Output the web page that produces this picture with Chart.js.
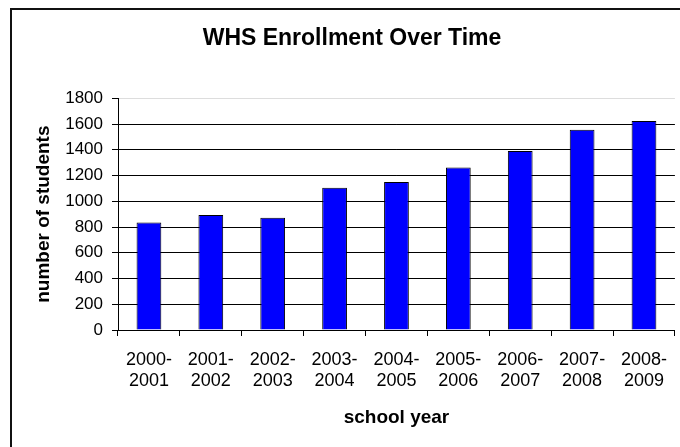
<!DOCTYPE html>
<html>
<head>
<meta charset="utf-8">
<script src="https://cdn.jsdelivr.net/npm/chart.js@4/dist/chart.umd.min.js"></script>
<style>
  html, body { margin: 0; padding: 0; background: #fff; }
  #wrap { width: 680px; height: 447px; position: relative; }
</style>
</head>
<body>
<div id="wrap"><canvas id="c" width="680" height="447"></canvas></div>
<script>
const categories = [
  ['2000-', '2001'], ['2001-', '2002'], ['2002-', '2003'],
  ['2003-', '2004'], ['2004-', '2005'], ['2005-', '2006'],
  ['2006-', '2007'], ['2007-', '2008'], ['2008-', '2009']
];
const enrollment = [835, 893, 872, 1105, 1150, 1263, 1390, 1555, 1623];
const yTicks = [0, 200, 400, 600, 800, 1000, 1200, 1400, 1600, 1800];

const FONT = "'Liberation Sans', Arial, Helvetica, sans-serif";

const frame = {
  id: 'frame',
  beforeDraw(chart) {
    const ctx = chart.ctx;
    ctx.save();
    ctx.fillStyle = '#fff';
    ctx.fillRect(0, 0, chart.width, chart.height);
    ctx.restore();
  },
  afterDraw(chart) {
    const ctx = chart.ctx;
    ctx.save();
    ctx.fillStyle = '#111';
    ctx.fillRect(10, 8, chart.width - 10, 2);
    ctx.fillRect(10, 8, 2, chart.height - 8);
    ctx.restore();
  }
};

new Chart(document.getElementById('c'), {
  type: 'bar',
  data: {
    labels: categories,
    datasets: [{
      data: enrollment,
      backgroundColor: '#0000FF',
      borderColor: '#000',
      borderWidth: 1,
      barPercentage: 0.4,
      categoryPercentage: 1.0
    }]
  },
  options: {
    responsive: false,
    animation: false,
    devicePixelRatio: 1,
    layout: { padding: { left: 24, right: 0, top: 0, bottom: 0 } },
    plugins: {
      legend: { display: false },
      tooltip: { enabled: false },
      title: {
        display: true,
        text: 'WHS Enrollment Over Time',
        color: '#000',
        font: { family: FONT, size: 23, weight: 'bold' },
        padding: { top: 24.7, bottom: 46 }
      }
    },
    scales: {
      x: {
        afterFit(scale) { scale.height = 117; },
        grid: {
          display: true,
          drawOnChartArea: false,
          drawTicks: true,
          tickLength: 6,
          offset: true,
          color: '#000',
          tickColor: '#000'
        },
        border: { display: true, color: '#000', width: 1 },
        ticks: {
          color: '#000',
          font: { family: FONT, size: 18 },
          padding: 13,
          maxRotation: 0,
          autoSkip: false
        },
        title: {
          display: true,
          text: 'school year',
          color: '#000',
          font: { family: FONT, size: 19, weight: 'bold' },
          padding: { top: 4, bottom: 17.5 }
        }
      },
      y: {
        min: 0,
        max: 1800,
        afterFit(scale) { scale.width = 94; },
        afterBuildTicks(scale) { scale.ticks = yTicks.map(v => ({ value: v })); },
        grid: {
          display: true,
          drawTicks: true,
          tickLength: 6,
          color: (c) => (c.tick && c.tick.value === 1800 ? '#dddddd' : '#000'),
          tickColor: '#000'
        },
        border: { display: true, color: '#000', width: 1 },
        ticks: {
          color: '#000',
          font: { family: FONT, size: 17 },
          padding: 9,
          callback: (v) => String(v)
        },
        title: {
          display: true,
          text: 'number of students',
          color: '#000',
          font: { family: FONT, size: 19, weight: 'bold' },
          padding: { top: 8.8, bottom: 4 }
        }
      }
    }
  },
  plugins: [frame]
});
</script>
</body>
</html>
